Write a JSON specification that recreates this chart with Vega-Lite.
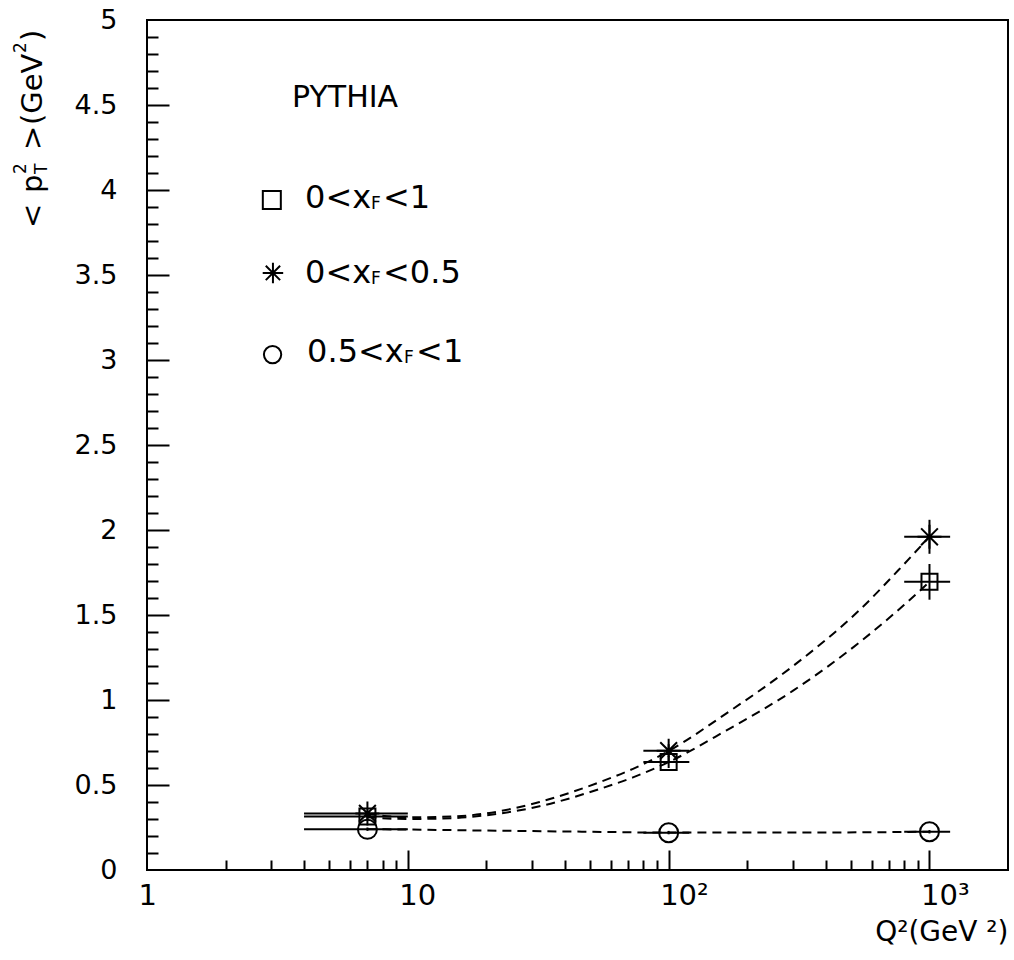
{
  "$schema": "https://vega.github.io/schema/vega-lite/v6.json",
  "width": 861,
  "height": 850,
  "autosize": "none",
  "padding": {"left": 147, "top": 20, "right": 6, "bottom": 90},
  "background": "white",
  "config": {
    "view": {"stroke": "black", "strokeWidth": 2},
    "axis": {"grid": false, "domain": false}
  },
  "datasets": {
    "curves": [
      {"series": "0<xF<0.5", "q2": 7, "v": 0.33},
      {"series": "0<xF<0.5", "q2": 10, "v": 0.31},
      {"series": "0<xF<0.5", "q2": 15, "v": 0.315},
      {"series": "0<xF<0.5", "q2": 20, "v": 0.333},
      {"series": "0<xF<0.5", "q2": 32, "v": 0.4},
      {"series": "0<xF<0.5", "q2": 54, "v": 0.515},
      {"series": "0<xF<0.5", "q2": 73, "v": 0.595},
      {"series": "0<xF<0.5", "q2": 100, "v": 0.7},
      {"series": "0<xF<0.5", "q2": 166, "v": 0.92},
      {"series": "0<xF<0.5", "q2": 300, "v": 1.2},
      {"series": "0<xF<0.5", "q2": 540, "v": 1.53},
      {"series": "0<xF<0.5", "q2": 800, "v": 1.8},
      {"series": "0<xF<0.5", "q2": 1000, "v": 1.96},
      {"series": "0<xF<1", "q2": 7, "v": 0.31},
      {"series": "0<xF<1", "q2": 10, "v": 0.3},
      {"series": "0<xF<1", "q2": 15, "v": 0.305},
      {"series": "0<xF<1", "q2": 20, "v": 0.322},
      {"series": "0<xF<1", "q2": 32, "v": 0.375},
      {"series": "0<xF<1", "q2": 54, "v": 0.475},
      {"series": "0<xF<1", "q2": 73, "v": 0.545},
      {"series": "0<xF<1", "q2": 100, "v": 0.635},
      {"series": "0<xF<1", "q2": 166, "v": 0.82},
      {"series": "0<xF<1", "q2": 300, "v": 1.055},
      {"series": "0<xF<1", "q2": 540, "v": 1.34},
      {"series": "0<xF<1", "q2": 800, "v": 1.56},
      {"series": "0<xF<1", "q2": 1000, "v": 1.695},
      {"series": "0.5<xF<1", "q2": 7, "v": 0.24},
      {"series": "0.5<xF<1", "q2": 10, "v": 0.238},
      {"series": "0.5<xF<1", "q2": 20, "v": 0.232},
      {"series": "0.5<xF<1", "q2": 50, "v": 0.225},
      {"series": "0.5<xF<1", "q2": 100, "v": 0.22},
      {"series": "0.5<xF<1", "q2": 300, "v": 0.22},
      {"series": "0.5<xF<1", "q2": 1000, "v": 0.225}
    ],
    "points": [
      {"series": "0<xF<1", "q2": 7, "v": 0.314, "q2lo": 4, "q2hi": 10, "vlo": 0.3, "vhi": 0.33},
      {"series": "0<xF<1", "q2": 100, "v": 0.635, "q2lo": 80, "q2hi": 120, "vlo": 0.6, "vhi": 0.67},
      {"series": "0<xF<1", "q2": 1000, "v": 1.695, "q2lo": 800, "q2hi": 1200, "vlo": 1.59, "vhi": 1.8},
      {"series": "0<xF<0.5", "q2": 7, "v": 0.333, "q2lo": 4, "q2hi": 10, "vlo": 0.32, "vhi": 0.35},
      {"series": "0<xF<0.5", "q2": 100, "v": 0.702, "q2lo": 80, "q2hi": 120, "vlo": 0.665, "vhi": 0.74},
      {"series": "0<xF<0.5", "q2": 1000, "v": 1.96, "q2lo": 800, "q2hi": 1200, "vlo": 1.86, "vhi": 2.06},
      {"series": "0.5<xF<1", "q2": 7, "v": 0.239, "q2lo": 4, "q2hi": 10, "vlo": 0.23, "vhi": 0.25},
      {"series": "0.5<xF<1", "q2": 100, "v": 0.219, "q2lo": 80, "q2hi": 120, "vlo": 0.21, "vhi": 0.23},
      {"series": "0.5<xF<1", "q2": 1000, "v": 0.225, "q2lo": 800, "q2hi": 1200, "vlo": 0.215, "vhi": 0.235}
    ]
  },
  "resolve": {"axis": {"x": "independent", "y": "independent"}},
  "layer": [
    {
      "data": {"name": "curves"},
      "mark": {"type": "line", "color": "black", "strokeWidth": 2, "strokeDash": [9, 6], "interpolate": "monotone"},
      "encoding": {
        "x": {"field": "q2", "type": "quantitative", "scale": {"type": "log", "domain": [1, 2000], "nice": false},
          "axis": {"orient": "bottom", "values": [1, 10, 100, 1000], "ticks": false, "domain": false,
            "labelExpr": "datum.value == 1 ? '1' : datum.value == 10 ? '10' : datum.value == 100 ? '10²' : '10³'",
            "labelFont": "DejaVu Sans", "labelFontSize": 29, "labelColor": "black", "labelAlign": "left", "labelOffset": -9,
            "labelPadding": 11, "labelBaseline": "top", "labelFlush": false, "labelOverlap": false,
            "title": "Q²(GeV ²)", "titleFont": "DejaVu Sans", "titleFontSize": 28, "titleFontWeight": "normal",
            "titleColor": "black", "titleAnchor": "end", "titleAlign": "right", "titlePadding": 8}},
        "y": {"field": "v", "type": "quantitative", "scale": {"domain": [0, 5], "nice": false, "zero": false},
          "axis": {"orient": "left", "values": [0, 0.5, 1, 1.5, 2, 2.5, 3, 3.5, 4, 4.5, 5], "ticks": false, "domain": false,
            "labelExpr": "'' + datum.value", "labelFont": "DejaVu Sans", "labelFontSize": 27, "labelColor": "black",
            "labelPadding": 30, "labelFlush": false, "labelOverlap": false, "labelBaseline": "middle", "title": null}},
        "detail": {"field": "series"}
      }
    },
    {
      "data": {"name": "points"},
      "mark": {"type": "rule", "color": "black", "strokeWidth": 2},
      "encoding": {
        "x": {"field": "q2lo", "type": "quantitative", "scale": {"type": "log", "domain": [1, 2000], "nice": false},
          "axis": {"orient": "bottom", "values": [10, 100, 1000], "labels": false, "domain": false, "tickSize": -20, "tickWidth": 2, "tickColor": "black", "title": null}},
        "x2": {"field": "q2hi"},
        "y": {"field": "v", "type": "quantitative", "scale": {"domain": [0, 5], "nice": false, "zero": false},
          "axis": {"orient": "left", "values": [0.5, 1, 1.5, 2, 2.5, 3, 3.5, 4, 4.5], "labels": false, "domain": false, "tickSize": -22, "tickWidth": 2, "tickColor": "black", "title": null}}
      }
    },
    {
      "data": {"name": "points"},
      "mark": {"type": "rule", "color": "black", "strokeWidth": 2},
      "encoding": {
        "x": {"field": "q2", "type": "quantitative", "scale": {"type": "log", "domain": [1, 2000], "nice": false}, "axis": null},
        "y": {"field": "vlo", "type": "quantitative", "scale": {"domain": [0, 5], "nice": false, "zero": false}, "axis": null},
        "y2": {"field": "vhi"}
      }
    },
    {
      "data": {"name": "points"},
      "transform": [{"filter": "datum.series === '0<xF<1'"}],
      "mark": {"type": "point", "shape": "square", "size": 256, "filled": false, "stroke": "black", "strokeWidth": 2, "opacity": 1},
      "encoding": {
        "x": {"field": "q2", "type": "quantitative", "scale": {"type": "log", "domain": [1, 2000], "nice": false},
          "axis": {"orient": "bottom", "values": [2, 3, 4, 5, 6, 7, 8, 9, 20, 30, 40, 50, 60, 70, 80, 90, 200, 300, 400, 500, 600, 700, 800, 900],
            "labels": false, "domain": false, "tickSize": -10, "tickWidth": 2, "tickColor": "black", "title": null}},
        "y": {"field": "v", "type": "quantitative", "scale": {"domain": [0, 5], "nice": false, "zero": false},
          "axis": {"orient": "left", "values": [0.1, 0.2, 0.3, 0.4, 0.6, 0.7, 0.8, 0.9, 1.1, 1.2, 1.3, 1.4, 1.6, 1.7, 1.8, 1.9, 2.1, 2.2, 2.3, 2.4, 2.6, 2.7, 2.8, 2.9, 3.1, 3.2, 3.3, 3.4, 3.6, 3.7, 3.8, 3.9, 4.1, 4.2, 4.3, 4.4, 4.6, 4.7, 4.8, 4.9],
            "labels": false, "domain": false, "tickSize": -11, "tickWidth": 2, "tickColor": "black", "title": null}}
      }
    },
    {
      "data": {"name": "points"},
      "transform": [{"filter": "datum.series === '0<xF<0.5'"}],
      "mark": {"type": "point", "shape": "M-1,0L1,0M0,-1L0,1M-0.7,-0.7L0.7,0.7M-0.7,0.7L0.7,-0.7", "size": 576, "filled": false, "stroke": "black", "strokeWidth": 2, "opacity": 1},
      "encoding": {
        "x": {"field": "q2", "type": "quantitative", "scale": {"type": "log", "domain": [1, 2000], "nice": false}, "axis": null},
        "y": {"field": "v", "type": "quantitative", "scale": {"domain": [0, 5], "nice": false, "zero": false}, "axis": null}
      }
    },
    {
      "data": {"name": "points"},
      "transform": [{"filter": "datum.series === '0.5<xF<1'"}],
      "mark": {"type": "point", "shape": "circle", "size": 361, "filled": false, "stroke": "black", "strokeWidth": 2, "opacity": 1},
      "encoding": {
        "x": {"field": "q2", "type": "quantitative", "scale": {"type": "log", "domain": [1, 2000], "nice": false}, "axis": null},
        "y": {"field": "v", "type": "quantitative", "scale": {"domain": [0, 5], "nice": false, "zero": false}, "axis": null}
      }
    },
    {
      "data": {"values": [{"label": "PYTHIA"}]},
      "mark": {"type": "text", "align": "left", "baseline": "middle", "font": "DejaVu Sans", "fontSize": 30, "color": "black"},
      "encoding": {
        "x": {"datum": 3.6, "type": "quantitative", "scale": {"type": "log", "domain": [1, 2000], "nice": false}, "axis": null},
        "y": {"datum": 4.542, "type": "quantitative", "scale": {"domain": [0, 5], "nice": false, "zero": false}, "axis": null},
        "text": {"field": "label"}
      }
    },
    {
      "data": {"values": [{"series": "0<xF<1"}]},
      "mark": {"type": "point", "shape": "square", "size": 324, "filled": false, "stroke": "black", "strokeWidth": 2, "opacity": 1},
      "encoding": {
        "x": {"datum": 3.01, "type": "quantitative", "scale": {"type": "log", "domain": [1, 2000], "nice": false}, "axis": null},
        "y": {"datum": 3.941, "type": "quantitative", "scale": {"domain": [0, 5], "nice": false, "zero": false}, "axis": null}
      }
    },
    {
      "data": {"values": [{"series": "0<xF<0.5"}]},
      "mark": {"type": "point", "shape": "M-1,0L1,0M0,-1L0,1M-0.7,-0.7L0.7,0.7M-0.7,0.7L0.7,-0.7", "size": 420, "filled": false, "stroke": "black", "strokeWidth": 2, "opacity": 1},
      "encoding": {
        "x": {"datum": 3.04, "type": "quantitative", "scale": {"type": "log", "domain": [1, 2000], "nice": false}, "axis": null},
        "y": {"datum": 3.512, "type": "quantitative", "scale": {"domain": [0, 5], "nice": false, "zero": false}, "axis": null}
      }
    },
    {
      "data": {"values": [{"series": "0.5<xF<1"}]},
      "mark": {"type": "point", "shape": "circle", "size": 300, "filled": false, "stroke": "black", "strokeWidth": 2, "opacity": 1},
      "encoding": {
        "x": {"datum": 3.03, "type": "quantitative", "scale": {"type": "log", "domain": [1, 2000], "nice": false}, "axis": null},
        "y": {"datum": 3.032, "type": "quantitative", "scale": {"domain": [0, 5], "nice": false, "zero": false}, "axis": null}
      }
    },
    {
      "data": {"values": [{"label": "0<x"}]},
      "mark": {"type": "text", "align": "left", "baseline": "middle", "font": "DejaVu Sans", "fontSize": 32, "color": "black"},
      "encoding": {
        "x": {"datum": 4.036, "type": "quantitative", "scale": {"type": "log", "domain": [1, 2000], "nice": false}, "axis": null},
        "y": {"datum": 3.953, "type": "quantitative", "scale": {"domain": [0, 5], "nice": false, "zero": false}, "axis": null},
        "text": {"field": "label"}
      }
    },
    {
      "data": {"values": [{"label": "F"}]},
      "mark": {"type": "text", "align": "left", "baseline": "middle", "font": "DejaVu Sans", "fontSize": 17, "color": "black", "dx": 66, "dy": 6},
      "encoding": {
        "x": {"datum": 4.036, "type": "quantitative", "scale": {"type": "log", "domain": [1, 2000], "nice": false}, "axis": null},
        "y": {"datum": 3.953, "type": "quantitative", "scale": {"domain": [0, 5], "nice": false, "zero": false}, "axis": null},
        "text": {"field": "label"}
      }
    },
    {
      "data": {"values": [{"label": "<1"}]},
      "mark": {"type": "text", "align": "left", "baseline": "middle", "font": "DejaVu Sans", "fontSize": 32, "color": "black", "dx": 78},
      "encoding": {
        "x": {"datum": 4.036, "type": "quantitative", "scale": {"type": "log", "domain": [1, 2000], "nice": false}, "axis": null},
        "y": {"datum": 3.953, "type": "quantitative", "scale": {"domain": [0, 5], "nice": false, "zero": false}, "axis": null},
        "text": {"field": "label"}
      }
    },
    {
      "data": {"values": [{"label": "0<x"}]},
      "mark": {"type": "text", "align": "left", "baseline": "middle", "font": "DejaVu Sans", "fontSize": 32, "color": "black"},
      "encoding": {
        "x": {"datum": 4.036, "type": "quantitative", "scale": {"type": "log", "domain": [1, 2000], "nice": false}, "axis": null},
        "y": {"datum": 3.512, "type": "quantitative", "scale": {"domain": [0, 5], "nice": false, "zero": false}, "axis": null},
        "text": {"field": "label"}
      }
    },
    {
      "data": {"values": [{"label": "F"}]},
      "mark": {"type": "text", "align": "left", "baseline": "middle", "font": "DejaVu Sans", "fontSize": 17, "color": "black", "dx": 66, "dy": 6},
      "encoding": {
        "x": {"datum": 4.036, "type": "quantitative", "scale": {"type": "log", "domain": [1, 2000], "nice": false}, "axis": null},
        "y": {"datum": 3.512, "type": "quantitative", "scale": {"domain": [0, 5], "nice": false, "zero": false}, "axis": null},
        "text": {"field": "label"}
      }
    },
    {
      "data": {"values": [{"label": "<0.5"}]},
      "mark": {"type": "text", "align": "left", "baseline": "middle", "font": "DejaVu Sans", "fontSize": 32, "color": "black", "dx": 78},
      "encoding": {
        "x": {"datum": 4.036, "type": "quantitative", "scale": {"type": "log", "domain": [1, 2000], "nice": false}, "axis": null},
        "y": {"datum": 3.512, "type": "quantitative", "scale": {"domain": [0, 5], "nice": false, "zero": false}, "axis": null},
        "text": {"field": "label"}
      }
    },
    {
      "data": {"values": [{"label": "0.5<x"}]},
      "mark": {"type": "text", "align": "left", "baseline": "middle", "font": "DejaVu Sans", "fontSize": 32, "color": "black"},
      "encoding": {
        "x": {"datum": 4.11, "type": "quantitative", "scale": {"type": "log", "domain": [1, 2000], "nice": false}, "axis": null},
        "y": {"datum": 3.047, "type": "quantitative", "scale": {"domain": [0, 5], "nice": false, "zero": false}, "axis": null},
        "text": {"field": "label"}
      }
    },
    {
      "data": {"values": [{"label": "F"}]},
      "mark": {"type": "text", "align": "left", "baseline": "middle", "font": "DejaVu Sans", "fontSize": 17, "color": "black", "dx": 97, "dy": 6},
      "encoding": {
        "x": {"datum": 4.11, "type": "quantitative", "scale": {"type": "log", "domain": [1, 2000], "nice": false}, "axis": null},
        "y": {"datum": 3.047, "type": "quantitative", "scale": {"domain": [0, 5], "nice": false, "zero": false}, "axis": null},
        "text": {"field": "label"}
      }
    },
    {
      "data": {"values": [{"label": "<1"}]},
      "mark": {"type": "text", "align": "left", "baseline": "middle", "font": "DejaVu Sans", "fontSize": 32, "color": "black", "dx": 109},
      "encoding": {
        "x": {"datum": 4.11, "type": "quantitative", "scale": {"type": "log", "domain": [1, 2000], "nice": false}, "axis": null},
        "y": {"datum": 3.047, "type": "quantitative", "scale": {"domain": [0, 5], "nice": false, "zero": false}, "axis": null},
        "text": {"field": "label"}
      }
    },
    {
      "data": {"values": [{"label": "<"}]},
      "mark": {"type": "text", "angle": 270, "align": "left", "baseline": "alphabetic", "font": "DejaVu Sans", "fontSize": 29, "color": "black", "dx": 0},
      "encoding": {
        "x": {"datum": 0.3956, "type": "quantitative", "scale": {"type": "log", "domain": [1, 2000], "nice": false}, "axis": null},
        "y": {"datum": 3.776, "type": "quantitative", "scale": {"domain": [0, 5], "nice": false, "zero": false}, "axis": null},
        "text": {"field": "label"}
      }
    },
    {
      "data": {"values": [{"label": "p"}]},
      "mark": {"type": "text", "angle": 270, "align": "left", "baseline": "alphabetic", "font": "DejaVu Sans", "fontSize": 29, "color": "black", "dx": 35},
      "encoding": {
        "x": {"datum": 0.3956, "type": "quantitative", "scale": {"type": "log", "domain": [1, 2000], "nice": false}, "axis": null},
        "y": {"datum": 3.776, "type": "quantitative", "scale": {"domain": [0, 5], "nice": false, "zero": false}, "axis": null},
        "text": {"field": "label"}
      }
    },
    {
      "data": {"values": [{"label": "2"}]},
      "mark": {"type": "text", "angle": 270, "align": "left", "baseline": "alphabetic", "font": "DejaVu Sans", "fontSize": 17, "color": "black", "dx": 54, "dy": -16},
      "encoding": {
        "x": {"datum": 0.3956, "type": "quantitative", "scale": {"type": "log", "domain": [1, 2000], "nice": false}, "axis": null},
        "y": {"datum": 3.776, "type": "quantitative", "scale": {"domain": [0, 5], "nice": false, "zero": false}, "axis": null},
        "text": {"field": "label"}
      }
    },
    {
      "data": {"values": [{"label": "T"}]},
      "mark": {"type": "text", "angle": 270, "align": "left", "baseline": "alphabetic", "font": "DejaVu Sans", "fontSize": 17, "color": "black", "dx": 54, "dy": 5},
      "encoding": {
        "x": {"datum": 0.3956, "type": "quantitative", "scale": {"type": "log", "domain": [1, 2000], "nice": false}, "axis": null},
        "y": {"datum": 3.776, "type": "quantitative", "scale": {"domain": [0, 5], "nice": false, "zero": false}, "axis": null},
        "text": {"field": "label"}
      }
    },
    {
      "data": {"values": [{"label": ">"}]},
      "mark": {"type": "text", "angle": 270, "align": "left", "baseline": "alphabetic", "font": "DejaVu Sans", "fontSize": 29, "color": "black", "dx": 78},
      "encoding": {
        "x": {"datum": 0.3956, "type": "quantitative", "scale": {"type": "log", "domain": [1, 2000], "nice": false}, "axis": null},
        "y": {"datum": 3.776, "type": "quantitative", "scale": {"domain": [0, 5], "nice": false, "zero": false}, "axis": null},
        "text": {"field": "label"}
      }
    },
    {
      "data": {"values": [{"label": "(GeV"}]},
      "mark": {"type": "text", "angle": 270, "align": "left", "baseline": "alphabetic", "font": "DejaVu Sans", "fontSize": 29, "color": "black", "dx": 103},
      "encoding": {
        "x": {"datum": 0.3956, "type": "quantitative", "scale": {"type": "log", "domain": [1, 2000], "nice": false}, "axis": null},
        "y": {"datum": 3.776, "type": "quantitative", "scale": {"domain": [0, 5], "nice": false, "zero": false}, "axis": null},
        "text": {"field": "label"}
      }
    },
    {
      "data": {"values": [{"label": "2"}]},
      "mark": {"type": "text", "angle": 270, "align": "left", "baseline": "alphabetic", "font": "DejaVu Sans", "fontSize": 17, "color": "black", "dx": 175, "dy": -16},
      "encoding": {
        "x": {"datum": 0.3956, "type": "quantitative", "scale": {"type": "log", "domain": [1, 2000], "nice": false}, "axis": null},
        "y": {"datum": 3.776, "type": "quantitative", "scale": {"domain": [0, 5], "nice": false, "zero": false}, "axis": null},
        "text": {"field": "label"}
      }
    },
    {
      "data": {"values": [{"label": ")"}]},
      "mark": {"type": "text", "angle": 270, "align": "left", "baseline": "alphabetic", "font": "DejaVu Sans", "fontSize": 29, "color": "black", "dx": 187},
      "encoding": {
        "x": {"datum": 0.3956, "type": "quantitative", "scale": {"type": "log", "domain": [1, 2000], "nice": false}, "axis": null},
        "y": {"datum": 3.776, "type": "quantitative", "scale": {"domain": [0, 5], "nice": false, "zero": false}, "axis": null},
        "text": {"field": "label"}
      }
    }
  ]
}
